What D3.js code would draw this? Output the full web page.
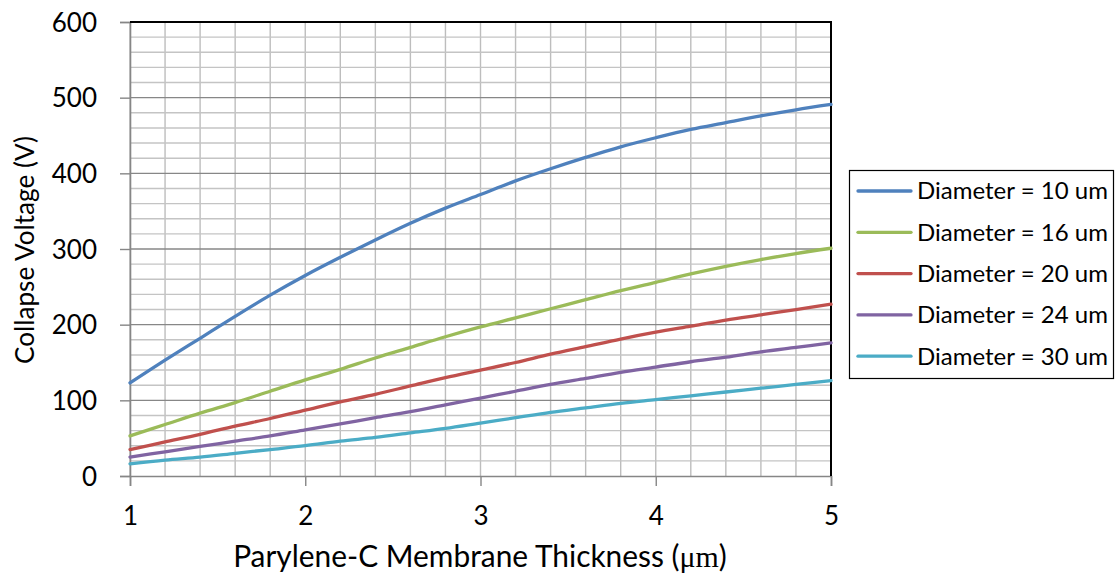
<!DOCTYPE html>
<html><head><meta charset="utf-8">
<script src="https://cdn.jsdelivr.net/npm/d3@7"></script>
<style>body{margin:0;background:#fff}svg{display:block}</style>
</head><body>
<svg id="c" width="1117" height="581"></svg>
<script>
const thickness = [1.0,1.2,1.4,1.6,1.8,2.0,2.2,2.4,2.6,2.8,3.0,3.2,3.4,3.6,3.8,4.0,4.2,4.4,4.6,4.8,5.0];
const d10 = [123,153,182,211,239,265,289,312,334,354,372,390,406,421,435,447,458,467,476,484,491];
const d16 = [53,68,83,97,112,127,141,156,170,184,197,209,221,233,245,256,267,277,286,294,301];
const d20 = [35,45,55,66,76,87,98,108,119,130,140,150,161,171,181,190,198,206,213,220,227];
const d24 = [25,32,39,46,53,61,69,77,85,94,103,112,121,129,137,144,151,157,164,170,176];
const d30 = [16,21,25,30,35,40,46,51,57,63,70,77,84,90,96,101,106,111,116,121,126];
const seriesNames = ["Diameter = 10 um","Diameter = 16 um","Diameter = 20 um","Diameter = 24 um","Diameter = 30 um"];
const seriesValues = [d10,d16,d20,d24,d30];
const colors = ["#4F81BD","#9BBB59","#C0504D","#8064A2","#4BACC6"];
const xTicks = [1,2,3,4,5];
const yTicks = [0,100,200,300,400,500,600];

const svg = d3.select("#c");
const L=130,R=831,T=22,B=476;
const x = d3.scaleLinear().domain([1,5]).range([L,R]);
const y = d3.scaleLinear().domain([0,600]).range([B,T]);
const font = "Lato, 'Open Sans', sans-serif";

function fitWidth(sel, target){
  const w = sel.node().getComputedTextLength();
  const fs = parseFloat(sel.attr("font-size"));
  sel.attr("font-size", fs*target/w);
}

// grid
const g = svg.append("g");
g.selectAll("line.vx").data(d3.range(1,5.001,0.2)).join("line")
  .attr("x1",d=>x(d)).attr("x2",d=>x(d)).attr("y1",T).attr("y2",B)
  .attr("stroke","#bdbdbd").attr("stroke-width",1.4);
g.selectAll("line.hm").data(d3.range(0,601,20).filter(v=>v%100!==0)).join("line")
  .attr("x1",L).attr("x2",R).attr("y1",d=>y(d)).attr("y2",d=>y(d))
  .attr("stroke","#c4c4c4").attr("stroke-width",1.4);
g.selectAll("line.hM").data(yTicks.filter(v=>v>0&&v<600)).join("line")
  .attr("x1",L).attr("x2",R).attr("y1",d=>y(d)).attr("y2",d=>y(d))
  .attr("stroke","#878787").attr("stroke-width",1.4);

// axes
const yAxis = d3.axisLeft(y).tickValues(yTicks).tickSize(10).tickPadding(23).tickFormat(d3.format("d"));
const ya = svg.append("g").attr("transform",`translate(${L},0)`).call(yAxis);
const xAxis = d3.axisBottom(x).tickValues(xTicks).tickSize(10).tickPadding(21).tickFormat(d3.format("d"));
const xa = svg.append("g").attr("transform",`translate(0,${B})`).call(xAxis);
[ya,xa].forEach(a=>{
  a.select(".domain").attr("stroke","#868686").attr("stroke-width",1.6);
  a.selectAll(".tick line").attr("stroke","#868686").attr("stroke-width",1.4);
  a.selectAll(".tick text").attr("font-family",font).attr("font-size",26).attr("fill","#000");
});
ya.selectAll(".tick text").attr("dy","0.35em");
// top and right borders
svg.append("line").attr("x1",L).attr("x2",R+1).attr("y1",T).attr("y2",T).attr("stroke","#000").attr("stroke-width",2);
svg.append("line").attr("x1",R).attr("x2",R).attr("y1",T).attr("y2",B).attr("stroke","#000").attr("stroke-width",2);

// lines
const line = d3.line().x((d,i)=>x(thickness[i])).y(d=>y(d)).curve(d3.curveCatmullRom.alpha(0.5));
seriesValues.forEach((vals,k)=>{
  svg.append("path").datum(vals).attr("d",line).attr("fill","none")
    .attr("stroke",colors[k]).attr("stroke-width",3.3).attr("stroke-linecap","round");
});

// axis titles
const xt = svg.append("text").attr("x",480).attr("y",567).attr("text-anchor","middle")
  .attr("font-family",font).attr("font-size",28).attr("fill","#000");
xt.append("tspan").text("Parylene-C Membrane Thickness (");
xt.append("tspan").attr("font-family","'Liberation Serif', serif").text("μm");
xt.append("tspan").text(")");
fitWidth(xt, 494);
const yt = svg.append("text").attr("transform","translate(34,250) rotate(-90)").attr("text-anchor","middle")
  .attr("font-family",font).attr("font-size",26).attr("fill","#000").text("Collapse Voltage (V)");
fitWidth(yt, 228);

// legend
const lg = svg.append("g");
lg.append("rect").attr("x",849.5).attr("y",170.5).attr("width",264).attr("height",208)
  .attr("fill","#fff").attr("stroke","#000").attr("stroke-width",1.2);
seriesNames.forEach((n,k)=>{
  const yy = 191 + k*41.3;
  lg.append("line").attr("x1",858).attr("x2",911).attr("y1",yy).attr("y2",yy)
    .attr("stroke",colors[k]).attr("stroke-width",3.3).attr("stroke-linecap","round");
  const t = lg.append("text").attr("x",917).attr("y",yy).attr("dy","0.35em")
    .attr("font-family",font).attr("font-size",22).attr("fill","#000").text(n);
  fitWidth(t, 191);
});
</script>
</body></html>
